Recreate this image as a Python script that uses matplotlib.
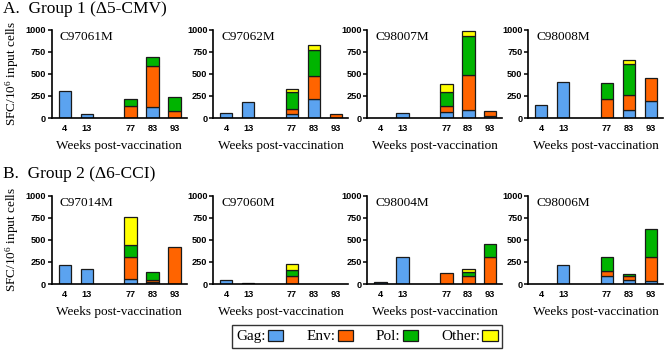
import matplotlib
matplotlib.use('Agg')
import matplotlib.pyplot as plt
from matplotlib.patches import Patch
import numpy as np

# weeks post-vaccination (x categories)
weeks = ['4', '13', '77', '83', '93']

group1_animals = ['C97061M', 'C97062M', 'C98007M', 'C98008M']
group2_animals = ['C97014M', 'C97060M', 'C98004M', 'C98006M']

# SFC/10^6 input cells, one row per animal (group 1 then group 2)
gag = [
    [300, 50, 0, 120, 0],
    [60, 180, 50, 220, 0],
    [0, 60, 70, 95, 25],
    [145, 410, 0, 90, 190],
    [220, 170, 55, 25, 0],
    [40, 15, 0, 0, 0],
    [25, 305, 0, 0, 0],
    [0, 215, 85, 45, 30],
]
env = [
    [0, 0, 140, 470, 75],
    [0, 0, 55, 260, 45],
    [0, 0, 65, 390, 55],
    [0, 0, 210, 175, 260],
    [0, 0, 250, 25, 420],
    [0, 0, 85, 0, 0],
    [0, 0, 125, 95, 310],
    [0, 0, 60, 50, 275],
]
pol = [
    [0, 0, 78, 100, 165],
    [0, 0, 185, 285, 0],
    [0, 0, 160, 445, 0],
    [0, 0, 190, 350, 0],
    [0, 0, 140, 85, 0],
    [0, 0, 70, 0, 0],
    [0, 0, 0, 45, 140],
    [0, 0, 160, 15, 315],
]
other = [
    [0, 0, 0, 0, 0],
    [0, 0, 40, 60, 0],
    [0, 0, 85, 55, 0],
    [0, 0, 0, 45, 0],
    [0, 0, 310, 0, 0],
    [0, 0, 75, 0, 0],
    [0, 0, 0, 35, 0],
    [0, 0, 0, 0, 0],
]

antigens = ['Gag', 'Env', 'Pol', 'Other']
colors = ['#5ba3f0', '#ff6400', '#00b400', '#ffff00']

serif = 'Liberation Serif'
sans = 'Liberation Sans'

plt.rcParams['mathtext.fontset'] = 'custom'
plt.rcParams['mathtext.rm'] = serif
plt.rcParams['mathtext.it'] = serif + ':italic'

x_pos = np.array([0, 1, 3, 4, 5])

W, H = 664, 351
fig = plt.figure(figsize=(W / 100, H / 100), dpi=100)

lefts = [51.7, 213, 367.3, 528]
bottoms = [118, 284]
ax_w = 135
ax_h = 88.5

animals = group1_animals + group2_animals
for i, name in enumerate(animals):
    row, col = divmod(i, 4)
    ax = fig.add_axes([lefts[col] / W, (H - bottoms[row]) / H, ax_w / W, ax_h / H])
    bottom = np.zeros(len(weeks))
    for series, c in zip([gag[i], env[i], pol[i], other[i]], colors):
        vals = np.array(series, dtype=float)
        m = vals > 0
        ax.bar(x_pos[m], vals[m], bottom=bottom[m], width=0.57, color=c,
               edgecolor='#1a1a1a', linewidth=0.9, zorder=2)
        bottom += vals
    ax.set_xlim(-0.6, 5.55)
    ax.set_ylim(0, 1000)
    ax.set_yticks([0, 250, 500, 750, 1000])
    ax.set_xticks(x_pos)
    ax.set_xticklabels(weeks)
    for s in ['top', 'right']:
        ax.spines[s].set_visible(False)
    for s in ['left', 'bottom']:
        ax.spines[s].set_linewidth(1.2)
    ax.tick_params(axis='y', length=3, width=1.1, pad=1)
    ax.tick_params(axis='x', length=0, pad=4)
    for lab in ax.get_xticklabels() + ax.get_yticklabels():
        lab.set_fontfamily(sans)
        lab.set_fontweight('bold')
        lab.set_fontsize(6.6)
    ax.text(0.06, 0.92, name, transform=ax.transAxes, fontsize=9.5,
            family=serif, va='center', ha='left')
    ax.set_xlabel('Weeks post-vaccination', fontsize=9.5, family=serif, labelpad=5)
    if col == 0:
        ax.set_ylabel('SFC/10$^6$ input cells', fontsize=9.5, family=serif, labelpad=3)

fig.text(3 / W, 1 - 9 / H, 'A.  Group 1 (\u03945-CMV)', fontsize=12.5, family=serif,
         va='center', ha='left')
fig.text(3 / W, 1 - 174 / H, 'B.  Group 2 (\u03946-CCI)', fontsize=12.5, family=serif,
         va='center', ha='left')

handles = [Patch(facecolor=c, edgecolor='#1a1a1a', linewidth=0.9) for c in colors]
labels = [a + ':' for a in antigens]
leg = fig.legend(handles, labels, loc='center', bbox_to_anchor=(367 / W, 1 - 336.5 / H),
                 ncol=4, markerfirst=False, frameon=True, fancybox=False,
                 edgecolor='black', prop={'family': serif, 'size': 11},
                 handlelength=1.0, handleheight=0.75, handletextpad=0.15,
                 columnspacing=1.5, borderpad=0.3, borderaxespad=0)
leg.get_frame().set_linewidth(1.0)

fig.savefig('out.png', dpi=100)
